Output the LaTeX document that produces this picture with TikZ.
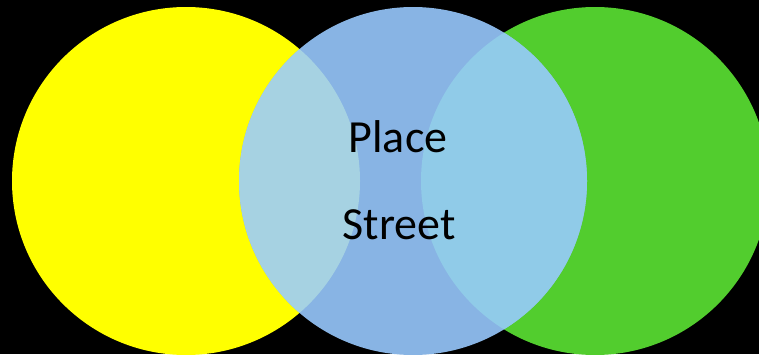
\documentclass[tikz,border=0pt]{standalone}
\usepackage{fontspec}
\setmainfont{Carlito}
\definecolor{cyel}{HTML}{FFFF00}
\definecolor{cgrn}{HTML}{52CD2E}
\definecolor{cblu}{HTML}{88B4E4}
\definecolor{cyb}{HTML}{A6D2E2}
\definecolor{cbg}{HTML}{90CBE8}
\begin{document}
\begin{tikzpicture}[x=1pt,y=-1pt,
  lbl/.style={font=\fontsize{46}{50}\selectfont, text=black, inner sep=0pt, anchor=base}]
\fill[black] (0,0) rectangle (759,354);
\useasboundingbox (0,0) rectangle (759,354);
\begin{scope}
\clip (0,0) rectangle (759,354);
\fill[cyel] (186,181) circle (174);
\fill[cgrn] (595,181) circle (174);
\fill[cblu] (413,181) circle (174);
\begin{scope}
\clip (186,181) circle (174);
\fill[cyb] (413,181) circle (174);
\end{scope}
\begin{scope}
\clip (595,181) circle (174);
\fill[cbg] (413,181) circle (174);
\end{scope}
\end{scope}
\node[lbl] (place) at (398,152) {Place};
\node[lbl] (street) at (399,239) {Street};
\end{tikzpicture}
\end{document}
